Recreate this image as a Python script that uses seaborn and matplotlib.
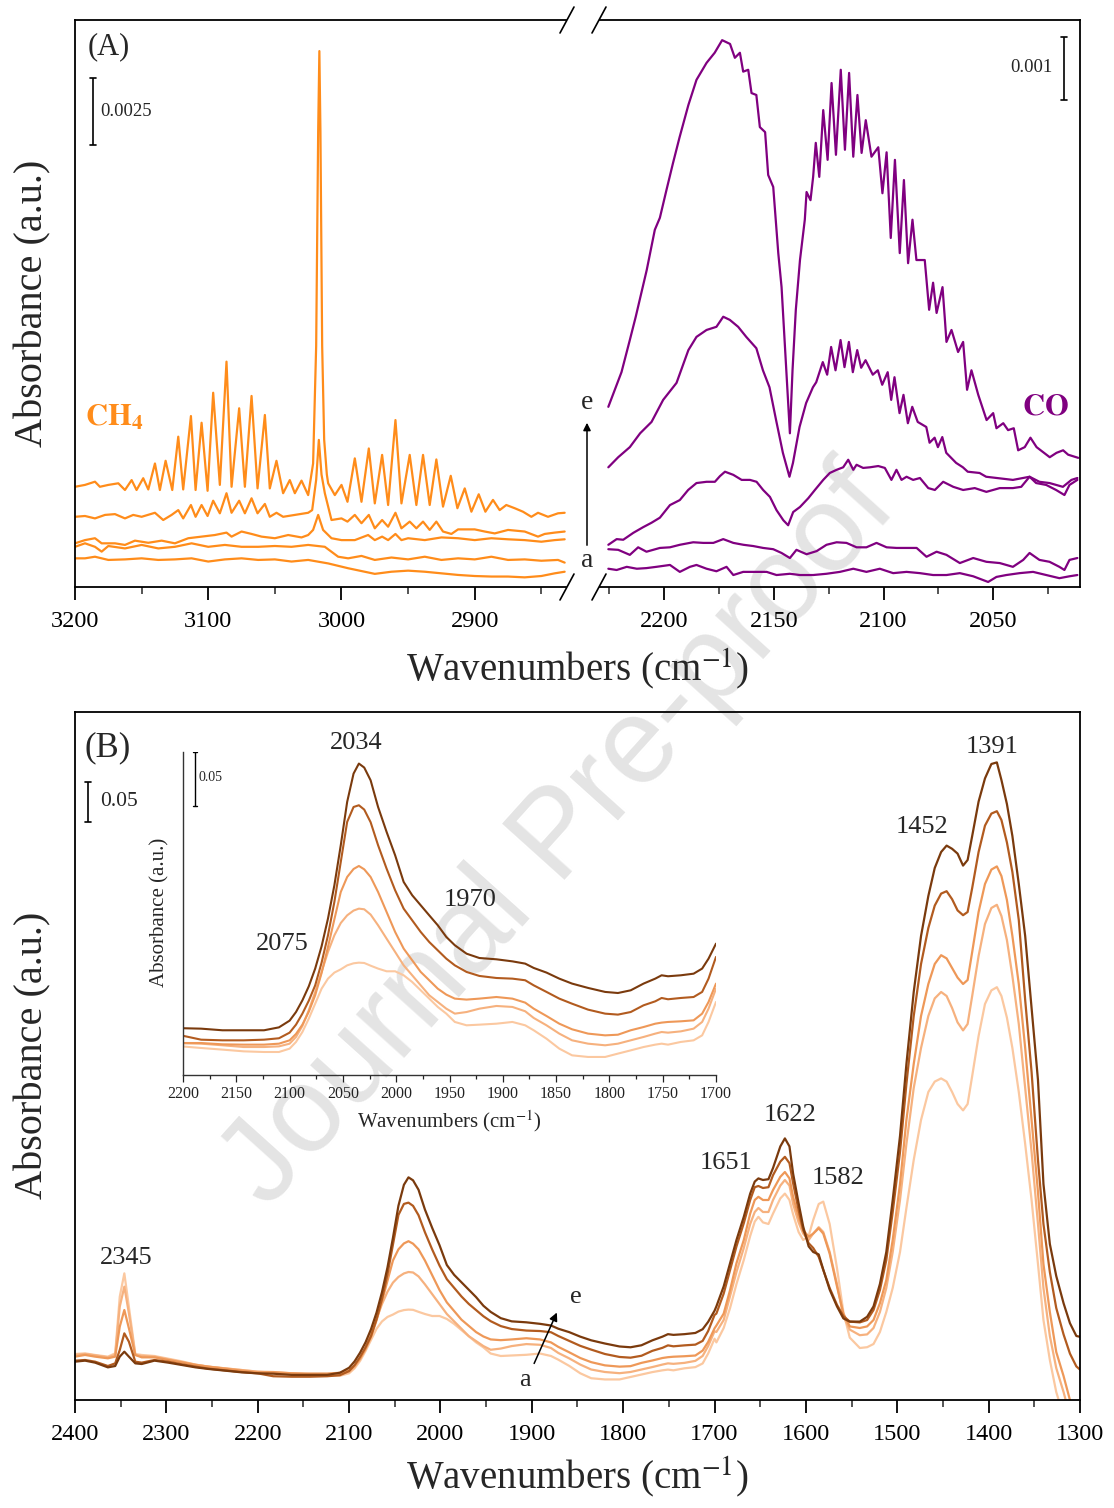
import numpy as np
import matplotlib
matplotlib.use("Agg")
import matplotlib.pyplot as plt
from matplotlib.lines import Line2D
from matplotlib.ticker import MultipleLocator, NullLocator
import seaborn as sns

# ---------------------------------------------------------------------------
# (A) gas-phase CH4 region, absorbance in units of 1e-3 (traces a -> e)
# ---------------------------------------------------------------------------
ch4_wn_e = [3200, 3192.5, 3185, 3181.3, 3175, 3167.5, 3162.5, 3157.5, 3153.8, 3148.8, 3145, 3140,
            3136.3, 3132, 3127, 3122.5, 3118.8, 3113, 3109.5, 3105, 3100.5, 3096.3, 3091.3, 3086.3,
            3082.5, 3076.8, 3072.5, 3067.5, 3063, 3057.5, 3053.8, 3048.8, 3043.8, 3038.8, 3035, 3030,
            3025, 3021.3, 3019, 3017.5, 3016.6, 3015.8, 3014.5, 3013, 3011, 3010, 3005, 3000, 2995.5,
            2990, 2985, 2979.5, 2975, 2969.5, 2965, 2959.5, 2955, 2948.8, 2943.8, 2938.8, 2933.8,
            2928.8, 2923.8, 2918, 2913, 2907.5, 2902.5, 2897, 2892, 2886.3, 2881.3, 2876.3, 2870,
            2863.8, 2857.5, 2852.5, 2845, 2837.5, 2832.5]
ch4_mabs_e = [3.74, 3.81, 3.93, 3.74, 3.81, 3.87, 3.62, 3.99, 3.62, 4.06, 3.64, 4.61, 3.62, 4.71,
              3.62, 5.61, 3.64, 6.38, 3.62, 6.13, 3.59, 7.25, 3.81, 8.41, 3.74, 6.67, 3.74, 7.13,
              3.68, 6.42, 3.68, 4.71, 3.50, 3.99, 3.50, 3.97, 3.43, 4.61, 9.0, 17.0, 20.0, 17.0, 9.0,
              5.5, 4.2, 3.87, 3.43, 3.81, 3.18, 4.80, 3.18, 5.17, 3.12, 4.93, 3.06, 6.23, 3.12, 4.93,
              3.06, 4.93, 3.06, 4.76, 3.00, 4.15, 2.94, 3.68, 2.81, 3.46, 2.81, 3.25, 2.87, 3.06,
              2.94, 2.81, 2.62, 2.77, 2.62, 2.75, 2.77]

ch4_wn_d = [3200, 3192.5, 3185, 3177.5, 3170, 3162.5, 3156.3, 3150, 3140, 3133.8, 3127.5, 3122.5,
            3118.8, 3113, 3109.5, 3105, 3100.5, 3096.3, 3091.3, 3086.3, 3082.5, 3076.8, 3072.5,
            3067.5, 3063, 3057.5, 3053.8, 3048.8, 3043.8, 3035, 3025, 3022, 3019, 3017, 3015, 3012.5,
            3007.5, 3000, 2995.5, 2990, 2985, 2979.5, 2975, 2969.5, 2965, 2959.5, 2955, 2948.8,
            2943.8, 2938.8, 2933.8, 2928.8, 2923.8, 2917.5, 2912.5, 2900, 2892.5, 2885, 2875,
            2862.5, 2852.5, 2847.5, 2840, 2832.5]
ch4_mabs_d = [2.62, 2.65, 2.56, 2.69, 2.72, 2.56, 2.69, 2.62, 2.77, 2.50, 2.69, 2.87, 2.56, 3.06,
              2.62, 3.06, 2.65, 3.22, 2.75, 3.50, 2.77, 3.22, 2.75, 3.31, 2.75, 3.10, 2.62, 2.77,
              2.62, 2.69, 2.77, 2.87, 4.0, 5.49, 4.2, 3.50, 2.50, 2.56, 2.44, 2.69, 2.38, 2.69, 2.19,
              2.50, 2.25, 2.77, 2.19, 2.44, 2.19, 2.44, 2.13, 2.44, 2.07, 1.98, 2.15, 2.15, 2.07,
              2.00, 2.13, 2.07, 1.88, 1.98, 2.03, 2.07]

ch4_wn_c = [3200, 3192.5, 3185, 3180, 3170, 3162.5, 3155, 3145, 3135, 3125, 3115, 3105, 3095,
            3086.3, 3082.5, 3075, 3067.5, 3060, 3050, 3040, 3030, 3025, 3021.3, 3017.5, 3013.8,
            3007.5, 3000, 2990, 2980, 2975, 2969.5, 2965, 2959.5, 2955, 2950, 2937.5, 2925, 2912.5,
            2900, 2887.5, 2875, 2862.5, 2850, 2840, 2832.5]
ch4_mabs_c = [1.63, 1.75, 1.82, 1.63, 1.63, 1.57, 1.73, 1.65, 1.73, 1.63, 1.82, 1.88, 1.94, 2.03,
              1.88, 2.07, 1.98, 1.88, 1.82, 1.94, 1.85, 1.94, 2.13, 2.69, 2.13, 1.82, 1.75, 1.75,
              1.94, 1.75, 1.88, 1.75, 1.98, 1.75, 1.82, 1.75, 1.85, 1.82, 1.75, 1.82, 1.78, 1.75,
              1.69, 1.75, 1.78]

ch4_wn_b = [3200, 3192.5, 3185, 3180, 3175, 3162.5, 3150, 3137.5, 3125, 3112.5, 3100, 3087.5, 3075,
            3062.5, 3050, 3037.5, 3025, 3012.5, 3002.5, 2995, 2985, 2975, 2962.5, 2950, 2937.5,
            2925, 2912.5, 2900, 2887.5, 2875, 2862.5, 2850, 2837.5, 2832.5]
ch4_mabs_b = [1.50, 1.63, 1.50, 1.32, 1.53, 1.44, 1.57, 1.44, 1.50, 1.63, 1.50, 1.57, 1.50, 1.50,
              1.53, 1.50, 1.57, 1.50, 1.13, 1.07, 1.16, 1.01, 1.10, 1.03, 1.13, 1.01, 1.07, 1.03,
              1.13, 1.01, 1.03, 0.98, 1.01, 0.91]

ch4_wn_a = [3200, 3192.5, 3185, 3175, 3162.5, 3150, 3137.5, 3125, 3112.5, 3100, 3087.5, 3075,
            3062.5, 3050, 3037.5, 3025, 3010, 2995, 2975, 2962.5, 2950, 2937.5, 2925, 2912.5, 2900,
            2887.5, 2875, 2862.5, 2850, 2840, 2832.5]
ch4_mabs_a = [1.07, 1.07, 1.13, 1.01, 1.03, 1.07, 1.01, 1.03, 1.07, 0.95, 1.03, 1.07, 1.01, 1.03,
              0.95, 1.01, 0.88, 0.70, 0.49, 0.57, 0.61, 0.57, 0.51, 0.45, 0.41, 0.39, 0.39, 0.36,
              0.41, 0.51, 0.57]

# ---------------------------------------------------------------------------
# (A) gas-phase CO region, absorbance in units of 1e-3 (traces a -> e)
# ---------------------------------------------------------------------------
co_wn_e = [2225.5, 2219.5, 2215.7, 2213, 2208, 2204.3, 2202, 2199, 2196, 2193, 2189, 2185.3, 2180.7,
           2177, 2173.6, 2170, 2167.8, 2165.5, 2164, 2161.7, 2160.2, 2158, 2156.4, 2154, 2152.6,
           2150.3, 2148, 2146.5, 2142.7, 2141.5, 2140, 2138.1, 2135.9, 2135.1, 2133.3, 2132.1,
           2130.9, 2129.3, 2127.5, 2125.5, 2123.7, 2121.7, 2119.5, 2117.6, 2115.7, 2113.8, 2111.9,
           2110, 2108.1, 2105.5, 2102.4, 2100.5, 2098.6, 2096.7, 2094.8, 2092.6, 2090.7, 2088.8,
           2086.8, 2085, 2081.2, 2079.2, 2077.4, 2075.8, 2073.1, 2072, 2071.3, 2069, 2066, 2063.7,
           2061.9, 2059.9, 2056.8, 2053, 2050, 2048.5, 2045.4, 2043.2, 2040.6, 2038.6, 2035.6, 2033,
           2030.2, 2024.2, 2021.1, 2018.1, 2015.8, 2011.2]
co_mabs_e = [2.86, 3.41, 3.92, 4.29, 5.03, 5.67, 5.86, 6.30, 6.73, 7.14, 7.65, 8.05, 8.32, 8.48,
             8.68, 8.62, 8.40, 8.48, 8.18, 8.21, 7.84, 7.81, 7.30, 7.22, 6.54, 6.35, 5.30, 4.76,
             2.44, 3.44, 4.40, 5.19, 5.83, 6.27, 6.14, 6.51, 7.05, 6.51, 7.57, 6.78, 8.00, 6.86,
             8.21, 6.94, 8.16, 6.83, 7.81, 6.89, 7.41, 6.83, 6.98, 6.25, 6.90, 5.54, 6.78, 5.30,
             6.46, 5.14, 5.83, 5.19, 5.19, 4.40, 4.83, 4.35, 4.76, 4.24, 3.89, 4.08, 3.73, 3.89,
             3.13, 3.44, 3.05, 2.65, 2.76, 2.52, 2.60, 2.49, 2.52, 2.17, 2.22, 2.37, 2.22, 2.06,
             2.13, 2.17, 2.10, 2.05]

co_wn_d = [2225.5, 2221, 2215.7, 2211, 2205.8, 2200.5, 2194.4, 2189, 2185.3, 2180.7, 2176.2, 2173.1,
           2170.1, 2166.3, 2162.6, 2158, 2155, 2152, 2149, 2145.9, 2142.9, 2141.3, 2138.3, 2135.3,
           2132.2, 2130.7, 2127.7, 2125.7, 2123.9, 2121.9, 2119.6, 2117.8, 2115.8, 2114, 2112,
           2110.2, 2108.2, 2104.9, 2102.6, 2100.6, 2098.1, 2096.5, 2095, 2092.7, 2090.9, 2088.9,
           2086.9, 2084.4, 2080.5, 2079, 2076.7, 2075.2, 2073.2, 2071.4, 2066.9, 2063.8, 2061.6,
           2056.2, 2053.2, 2041, 2033.4, 2030.4, 2025.8, 2021.3, 2017.5, 2015.2, 2011.6]
co_mabs_d = [1.90, 2.06, 2.22, 2.44, 2.62, 2.97, 3.24, 3.76, 3.97, 4.08, 4.13, 4.29, 4.24, 4.13,
             3.97, 3.79, 3.44, 3.17, 2.65, 2.13, 1.75, 1.97, 2.54, 2.92, 3.17, 3.25, 3.57, 3.37,
             3.81, 3.44, 3.92, 3.49, 3.89, 3.41, 3.76, 3.48, 3.60, 3.37, 3.44, 3.21, 3.41, 2.97,
             3.33, 2.76, 3.05, 2.60, 2.86, 2.62, 2.54, 2.29, 2.37, 2.22, 2.38, 2.13, 1.97, 1.90,
             1.83, 1.81, 1.75, 1.70, 1.75, 1.65, 1.62, 1.54, 1.46, 1.62, 1.70]

co_wn_c = [2225.5, 2221.7, 2218.7, 2214.1, 2209.6, 2205.8, 2202, 2197.4, 2192.9, 2189.1, 2185.3,
           2180.7, 2176.9, 2174.6, 2172.3, 2168.5, 2164.7, 2160.9, 2157.9, 2154.9, 2151.8, 2148.8,
           2145.7, 2143.5, 2141.2, 2138.1, 2134.3, 2131.3, 2127.5, 2124.5, 2121.4, 2118.4, 2116.1,
           2113.8, 2112.3, 2109.3, 2106.2, 2102.4, 2099.4, 2096.4, 2094.1, 2091.8, 2089.5, 2086.5,
           2083.4, 2079.6, 2076.6, 2072.8, 2068.2, 2063.7, 2058.4, 2053.1, 2047, 2041, 2037.2,
           2033.4, 2028.9, 2024.3, 2018.2, 2014.3, 2011.6]
co_mabs_c = [0.67, 0.76, 0.75, 0.86, 0.95, 1.02, 1.10, 1.30, 1.38, 1.54, 1.65, 1.67, 1.67, 1.76,
             1.83, 1.78, 1.70, 1.70, 1.67, 1.54, 1.43, 1.22, 1.06, 0.98, 1.19, 1.27, 1.41, 1.54,
             1.70, 1.81, 1.86, 1.90, 2.02, 1.86, 1.94, 1.89, 1.90, 1.92, 1.89, 1.70, 1.86, 1.70,
             1.75, 1.70, 1.73, 1.57, 1.54, 1.67, 1.59, 1.54, 1.57, 1.51, 1.57, 1.57, 1.59, 1.75,
             1.67, 1.65, 1.59, 1.70, 1.73]

co_wn_b = [2225.5, 2221, 2215.7, 2211.9, 2208.1, 2202, 2197.4, 2192.9, 2186.8, 2182.2, 2177.6,
           2173.1, 2168.5, 2163.9, 2159.4, 2154.9, 2150.3, 2146.5, 2142.7, 2139.7, 2135.1, 2130.5,
           2126, 2121.4, 2116.9, 2112.3, 2107.8, 2103.2, 2098.6, 2094.1, 2089.5, 2084.9, 2080.4,
           2075.8, 2071.3, 2065.2, 2059.1, 2053.1, 2047, 2041, 2036.3, 2033.4, 2028.9, 2024.3,
           2019.8, 2017.5, 2015.2, 2011.6]
co_mabs_b = [0.60, 0.59, 0.51, 0.63, 0.56, 0.62, 0.63, 0.67, 0.71, 0.70, 0.70, 0.76, 0.70, 0.67,
             0.65, 0.62, 0.60, 0.54, 0.46, 0.59, 0.52, 0.57, 0.67, 0.71, 0.70, 0.63, 0.63, 0.70,
             0.63, 0.62, 0.62, 0.62, 0.48, 0.56, 0.51, 0.38, 0.46, 0.40, 0.38, 0.32, 0.43, 0.54,
             0.43, 0.40, 0.32, 0.27, 0.43, 0.46]

co_wn_a = [2225.5, 2221.7, 2217.1, 2212.5, 2208.1, 2203.6, 2197.4, 2192.9, 2188.3, 2185.3, 2180.7,
           2176.2, 2171.6, 2168.5, 2164, 2157.9, 2153.3, 2148.8, 2142.7, 2138.1, 2132.1, 2126,
           2119.9, 2113.8, 2107.8, 2101.7, 2095.6, 2089.5, 2083.4, 2077.4, 2071.3, 2065.2, 2059.1,
           2052.3, 2048.5, 2044, 2037.9, 2031.8, 2025.8, 2019.8, 2015.2, 2011.6]
co_mabs_a = [0.29, 0.27, 0.32, 0.29, 0.30, 0.32, 0.35, 0.24, 0.32, 0.35, 0.29, 0.25, 0.32, 0.19,
             0.24, 0.24, 0.24, 0.19, 0.21, 0.19, 0.19, 0.21, 0.24, 0.29, 0.24, 0.29, 0.22, 0.24,
             0.22, 0.19, 0.19, 0.22, 0.17, 0.08, 0.16, 0.19, 0.22, 0.24, 0.19, 0.14, 0.17, 0.19]

# ---------------------------------------------------------------------------
# (B) adsorbed species, 2400-1300 cm-1, absorbance (traces a -> e)
# ---------------------------------------------------------------------------
b_wn = [2400, 2389, 2378, 2364, 2356, 2351, 2346, 2341, 2334, 2327, 2313, 2298, 2283, 2268, 2254,
        2236, 2218, 2200,
        2183, 2163, 2143, 2124, 2110, 2100, 2094, 2088, 2082, 2076, 2070, 2064, 2058, 2052, 2046,
        2040, 2035, 2030, 2024, 2017, 2009, 2001, 1993, 1985, 1977, 1969, 1961, 1953, 1945, 1934,
        1922, 1906, 1891, 1879, 1871, 1859, 1847, 1835, 1820, 1804, 1792, 1780, 1768, 1757, 1751,
        1745, 1733, 1721, 1713, 1707, 1700,
        1698, 1690, 1683, 1676, 1668, 1661, 1656, 1652, 1647, 1641, 1636, 1628, 1623, 1618, 1614,
        1608, 1603, 1597, 1592, 1586, 1581, 1574, 1566, 1559, 1552, 1541, 1533, 1526, 1519, 1512,
        1505, 1497, 1490, 1482, 1474, 1466, 1459, 1452, 1446, 1440, 1434, 1428, 1423, 1418, 1411,
        1404, 1397, 1391, 1386, 1380, 1374, 1367, 1360, 1353, 1346, 1340, 1333, 1326, 1318, 1311,
        1304, 1300]

b_abs_e = [0.0479, 0.0492, 0.0467, 0.0408, 0.0425, 0.0542, 0.0604, 0.0542, 0.0458, 0.0450, 0.0492,
           0.0467, 0.0438, 0.0408, 0.0388, 0.0367, 0.0346, 0.0333,
           0.0329, 0.0314, 0.0314, 0.0314, 0.0341, 0.0403, 0.0483, 0.0591, 0.0721, 0.0885, 0.1091,
           0.1348, 0.1656, 0.2027, 0.2428, 0.2690, 0.2783, 0.2746, 0.2628, 0.2381, 0.2150, 0.1934,
           0.1687, 0.1564, 0.1471, 0.1378, 0.1286, 0.1178, 0.1101, 0.1023, 0.0983, 0.0971, 0.0952,
           0.0931, 0.0891, 0.0848, 0.0792, 0.0746, 0.0706, 0.0669, 0.0659, 0.0684, 0.0746, 0.0792,
           0.0823, 0.0814, 0.0823, 0.0838, 0.0885, 0.0977, 0.1116,
           0.117, 0.142, 0.171, 0.200, 0.229, 0.258, 0.273, 0.277, 0.275, 0.276, 0.290, 0.317,
           0.327, 0.317, 0.283, 0.246, 0.217, 0.192, 0.185, 0.182, 0.163, 0.138, 0.117, 0.102,
           0.098, 0.098, 0.104, 0.117, 0.145, 0.185, 0.25, 0.33, 0.42, 0.51, 0.58, 0.63, 0.665,
           0.685, 0.693, 0.689, 0.683, 0.668, 0.675, 0.705, 0.748, 0.777, 0.795, 0.797, 0.775,
           0.745, 0.705, 0.645, 0.58, 0.49, 0.40, 0.27, 0.195, 0.155, 0.121, 0.096, 0.080, 0.079]

b_abs_d = [0.0492, 0.0500, 0.0479, 0.0425, 0.0458, 0.0625, 0.0833, 0.0729, 0.0479, 0.0467, 0.0500,
           0.0479, 0.0446, 0.0417, 0.0392, 0.0371, 0.0350, 0.0333,
           0.0297, 0.0291, 0.0291, 0.0297, 0.0310, 0.0362, 0.0436, 0.0538, 0.0658, 0.0800, 0.1010,
           0.1263, 0.1572, 0.1942, 0.2313, 0.2451, 0.2467, 0.2427, 0.2310, 0.2097, 0.1880, 0.1680,
           0.1510, 0.1402, 0.1294, 0.1201, 0.1124, 0.1047, 0.0985, 0.0924, 0.0887, 0.0868, 0.0862,
           0.0847, 0.0800, 0.0739, 0.0677, 0.0630, 0.0575, 0.0538, 0.0529, 0.0553, 0.0615, 0.0652,
           0.0683, 0.0671, 0.0683, 0.0692, 0.0739, 0.0862, 0.1063,
           0.108, 0.133, 0.1625, 0.192, 0.221, 0.250, 0.266, 0.2675, 0.265, 0.266, 0.281, 0.298,
           0.304, 0.296, 0.271, 0.2375, 0.2125, 0.196, 0.190, 0.179, 0.1625, 0.140, 0.119, 0.105,
           0.098, 0.097, 0.100, 0.1125, 0.1375, 0.175, 0.235, 0.31, 0.395, 0.48, 0.545, 0.59,
           0.618, 0.633, 0.636, 0.626, 0.612, 0.606, 0.610, 0.640, 0.685, 0.718, 0.733, 0.736,
           0.725, 0.697, 0.66, 0.60, 0.50, 0.41, 0.30, 0.22, 0.16, 0.115, 0.082, 0.058, 0.042, 0.038]

b_abs_c = [0.0542, 0.0563, 0.0542, 0.0521, 0.0542, 0.0917, 0.1125, 0.0896, 0.0563, 0.0533, 0.0533,
           0.0500, 0.0471, 0.0438, 0.0417, 0.0392, 0.0367, 0.0346,
           0.0346, 0.0334, 0.0331, 0.0331, 0.0340, 0.0371, 0.0430, 0.0516, 0.0636, 0.0788, 0.0994,
           0.1235, 0.1491, 0.1744, 0.1883, 0.1957, 0.1985, 0.1954, 0.1883, 0.1744, 0.1559, 0.1374,
           0.1220, 0.1112, 0.1004, 0.0927, 0.0849, 0.0794, 0.0757, 0.0748, 0.0757, 0.0772, 0.0757,
           0.0720, 0.0664, 0.0596, 0.0525, 0.0473, 0.0433, 0.0417, 0.0423, 0.0464, 0.0494, 0.0525,
           0.0535, 0.0541, 0.0547, 0.0556, 0.0618, 0.0726, 0.0896,
           0.093, 0.108, 0.1375, 0.171, 0.200, 0.233, 0.250, 0.254, 0.250, 0.250, 0.2625, 0.279,
           0.285, 0.277, 0.254, 0.229, 0.2125, 0.204, 0.208, 0.2146, 0.208, 0.183, 0.142, 0.108,
           0.092, 0.090, 0.092, 0.100, 0.121, 0.150, 0.20, 0.27, 0.35, 0.42, 0.48, 0.52, 0.545,
           0.556, 0.552, 0.540, 0.528, 0.520, 0.525, 0.560, 0.610, 0.645, 0.663, 0.667, 0.655,
           0.625, 0.58, 0.52, 0.44, 0.35, 0.26, 0.17, 0.11, 0.06, 0.03, 0.0, -0.03, -0.05]

b_abs_b = [0.0563, 0.0575, 0.0558, 0.0533, 0.0563, 0.1167, 0.1417, 0.1083, 0.0563, 0.0550, 0.0542,
           0.0508, 0.0475, 0.0442, 0.0417, 0.0396, 0.0375, 0.0354,
           0.0350, 0.0335, 0.0319, 0.0319, 0.0325, 0.0350, 0.0412, 0.0514, 0.0659, 0.0829, 0.1014,
           0.1199, 0.1353, 0.1467, 0.1538, 0.1582, 0.1600, 0.1594, 0.1545, 0.1446, 0.1322, 0.1199,
           0.1075, 0.0983, 0.0890, 0.0798, 0.0736, 0.0674, 0.0628, 0.0643, 0.0674, 0.0699, 0.0690,
           0.0650, 0.0588, 0.0520, 0.0443, 0.0381, 0.0350, 0.0335, 0.0350, 0.0381, 0.0412, 0.0443,
           0.0458, 0.0452, 0.0464, 0.0489, 0.0551, 0.0674, 0.0859,
           0.085, 0.10, 0.13, 0.16, 0.19, 0.22, 0.235, 0.24, 0.235, 0.235, 0.25, 0.268, 0.275,
           0.268, 0.245, 0.222, 0.208, 0.20, 0.208, 0.216, 0.21, 0.185, 0.145, 0.105, 0.088,
           0.081, 0.082, 0.09, 0.11, 0.14, 0.185, 0.25, 0.32, 0.39, 0.44, 0.48, 0.502, 0.51,
           0.505, 0.49, 0.472, 0.462, 0.47, 0.505, 0.555, 0.595, 0.615, 0.619, 0.605, 0.575, 0.53,
           0.47, 0.39, 0.31, 0.22, 0.14, 0.08, 0.04, 0.01, -0.02, -0.05, -0.07]

b_abs_a = [0.0575, 0.0583, 0.0563, 0.0542, 0.0583, 0.1292, 0.1583, 0.1167, 0.0575, 0.0563, 0.0550,
           0.0517, 0.0483, 0.0442, 0.0417, 0.0396, 0.0375, 0.0354,
           0.0340, 0.0325, 0.0309, 0.0303, 0.0303, 0.0334, 0.0396, 0.0488, 0.0612, 0.0750, 0.0889,
           0.0982, 0.1038, 0.1068, 0.1105, 0.1124, 0.1130, 0.1127, 0.1102, 0.1075, 0.1050, 0.1050,
           0.1013, 0.0951, 0.0874, 0.0797, 0.0720, 0.0658, 0.0581, 0.0550, 0.0556, 0.0565, 0.0581,
           0.0550, 0.0504, 0.0426, 0.0334, 0.0272, 0.0257, 0.0257, 0.0288, 0.0318, 0.0349, 0.0371,
           0.0380, 0.0371, 0.0396, 0.0411, 0.0457, 0.0581, 0.0766,
           0.072, 0.09, 0.115, 0.145, 0.175, 0.205, 0.223, 0.229, 0.222, 0.22, 0.233, 0.252, 0.258,
           0.25, 0.232, 0.21, 0.20, 0.205, 0.225, 0.245, 0.248, 0.22, 0.165, 0.11, 0.078, 0.065,
           0.066, 0.07, 0.085, 0.11, 0.14, 0.185, 0.24, 0.30, 0.35, 0.385, 0.398, 0.402, 0.398,
           0.385, 0.37, 0.362, 0.37, 0.405, 0.455, 0.495, 0.512, 0.516, 0.505, 0.478, 0.44, 0.385,
           0.32, 0.25, 0.17, 0.10, 0.05, 0.01, -0.02, -0.05, -0.08, -0.10]

# vertical offsets removed from each trace (a -> e) when redrawn in the inset
inset_shift = [0.019, 0.016, 0.015, 0.007, 0.0]

b_colors = ["#fbc8a0", "#f6b17e", "#ee9858", "#b25b1f", "#7a3a0d"]
ORANGE = "#ff8c1a"
PURPLE = "#800080"

# ---------------------------------------------------------------------------
sns.set_theme(style="ticks")
plt.rcParams["font.family"] = ["Liberation Serif", "DejaVu Serif"]
plt.rcParams["mathtext.fontset"] = "stix"
plt.rcParams["axes.linewidth"] = 1.3
plt.rcParams["axes.edgecolor"] = "black"

W, H = 1114, 1508
fig = plt.figure(figsize=(W / 100, H / 100), dpi=100, facecolor="white")


def px_axes(x0, y0, x1, y1):
    ax = fig.add_axes([x0 / W, 1 - y1 / H, (x1 - x0) / W, (y1 - y0) / H])
    ax.set_facecolor("none")
    return ax


def fx(x):
    return x / W


def fy(y):
    return 1 - y / H


def bottom_ticks(ax, major, minor, size, length=9, pad=8):
    ax.xaxis.set_major_locator(MultipleLocator(major))
    ax.xaxis.set_minor_locator(MultipleLocator(minor))
    ax.yaxis.set_major_locator(NullLocator())
    ax.yaxis.set_minor_locator(NullLocator())
    ax.tick_params(axis="x", which="major", direction="out", length=length, width=1.3,
                   labelsize=size, pad=pad, bottom=True, top=False, colors="black")
    ax.tick_params(axis="x", which="minor", direction="out", length=length * 0.55, width=1.1,
                   bottom=True, top=False)
    ax.set_xlabel("")
    ax.set_ylabel("")


def trace(ax, x, y, color, lw):
    sns.lineplot(x=np.asarray(x, float), y=np.asarray(y, float), ax=ax, color=color, lw=lw,
                 sort=False, estimator=None, legend=False)


def scale_bar(ax, x, y0, length, cap, lw=1.2, color="black"):
    ax.plot([x, x], [y0, y0 + length], color=color, lw=lw, solid_capstyle="butt")
    ax.plot([x - cap, x + cap], [y0, y0], color=color, lw=lw)
    ax.plot([x - cap, x + cap], [y0 + length, y0 + length], color=color, lw=lw)


# watermark under the data
fig.text(fx(560), fy(838), "Journal Pre-proof", rotation=48, fontsize=88, color="#e4e4e4",
         family="Liberation Sans", ha="center", va="center", zorder=-10)

# ------------------------------- panel A ----------------------------------
axL = px_axes(75, 20, 566, 587)
axR = px_axes(600, 20, 1080, 587)

for wn, m in [(ch4_wn_a, ch4_mabs_a), (ch4_wn_b, ch4_mabs_b), (ch4_wn_c, ch4_mabs_c),
              (ch4_wn_d, ch4_mabs_d), (ch4_wn_e, ch4_mabs_e)]:
    trace(axL, wn, np.asarray(m) * 1e-3, ORANGE, 1.6)
for wn, m in [(co_wn_a, co_mabs_a), (co_wn_b, co_mabs_b), (co_wn_c, co_mabs_c),
              (co_wn_d, co_mabs_d), (co_wn_e, co_mabs_e)]:
    trace(axR, wn, np.asarray(m) * 1e-3, PURPLE, 1.6)

axL.set_xlim(3200, 2831.5)
axL.set_ylim(0, 0.02116)
axR.set_xlim(2229.3, 2010.4)
axR.set_ylim(0, 0.0090)
axL.spines["right"].set_visible(False)
axR.spines["left"].set_visible(False)
bottom_ticks(axL, 100, 50, 17.5)
bottom_ticks(axR, 50, 25, 17.5)
axL.set_xticks([3200, 3100, 3000, 2900])

# axis-break marks
for xc in (567, 599):
    for yc in (20, 587):
        fig.add_artist(Line2D([fx(xc - 7), fx(xc + 7)], [fy(yc + 13), fy(yc - 13)],
                              color="black", lw=1.2))

# scale bars
scale_bar(axL, 3186.5, 0.01649, 0.0025, 2.3)
axL.text(3181.0, 0.01776, "0.0025", fontsize=13.5, ha="left", va="center")
scale_bar(axR, 2017.8, 0.00773, 0.001, 1.4)
axR.text(2022.8, 0.00824, "0.001", fontsize=13.5, ha="right", va="center")

fig.text(fx(88), fy(47), "(A)", fontsize=22, ha="left", va="center")
fig.text(fx(85), fy(418), r"$\mathbf{CH_4}$", fontsize=22, color=ORANGE, ha="left", va="center")
fig.text(fx(1045), fy(407), r"$\mathbf{CO}$", fontsize=22, color=PURPLE, ha="center", va="center")
fig.text(fx(587), fy(403), "e", fontsize=20, ha="center", va="center")
fig.text(fx(587), fy(560), "a", fontsize=20, ha="center", va="center")
axL.annotate("", xy=(fx(587), fy(420)), xytext=(fx(587), fy(548)),
             xycoords="figure fraction", textcoords="figure fraction",
             arrowprops=dict(arrowstyle="-|>", color="black", lw=1.1, mutation_scale=11))

fig.text(fx(577), fy(669), r"Wavenumbers (cm$^{-1}$)", fontsize=28, ha="center", va="center")
fig.text(fx(33), fy(303), "Absorbance (a.u.)", fontsize=29, rotation=90, ha="center", va="center")

# ------------------------------- panel B ----------------------------------
axB = px_axes(75, 712, 1080, 1400)
for col, yy in zip(b_colors, [b_abs_a, b_abs_b, b_abs_c, b_abs_d, b_abs_e]):
    trace(axB, b_wn, yy, col, 1.6)
axB.set_xlim(2400, 1300)
axB.set_ylim(0, 0.86)
bottom_ticks(axB, 100, 50, 17.5)
scale_bar(axB, 2385.8, 0.7225, 0.05, 3.0)
axB.text(2372.6, 0.7475, "0.05", fontsize=15.5, ha="left", va="center")

# inset: same spectra, 2200-1700 cm-1
axI = px_axes(183, 752, 716, 1075)
wn_arr = np.asarray(b_wn, float)
sel = (wn_arr <= 2200) & (wn_arr >= 1700)
for col, yy, sh in zip(b_colors, [b_abs_a, b_abs_b, b_abs_c, b_abs_d, b_abs_e], inset_shift):
    trace(axI, wn_arr[sel], np.asarray(yy, float)[sel] - sh, col, 1.5)
axI.set_xlim(2200, 1700)
axI.set_ylim(-0.010, 0.289)
axI.spines["top"].set_visible(False)
axI.spines["right"].set_visible(False)
for s in ("left", "bottom"):
    axI.spines[s].set_color("#333333")
    axI.spines[s].set_linewidth(1.0)
bottom_ticks(axI, 50, 25, 11.5, length=5, pad=3)
axI.tick_params(axis="x", which="both", width=0.9, colors="#222222")
scale_bar(axI, 2188.7, 0.239, 0.05, 2.0, lw=1.0)
axI.text(2185.0, 0.265, "0.05", fontsize=10, ha="left", va="center")
fig.text(fx(449), fy(1121), r"Wavenumbers (cm$^{-1}$)", fontsize=15, ha="center", va="center")
fig.text(fx(160), fy(912), "Absorbance (a.u.)", fontsize=15, rotation=90, ha="center", va="center")

fig.text(fx(85), fy(748), "(B)", fontsize=25, ha="left", va="center")
for lbl, (x, y) in {"2345": (126, 1258), "2034": (356, 743), "2075": (282, 944),
                    "1970": (470, 900), "1651": (726, 1163), "1622": (790, 1115),
                    "1582": (838, 1178), "1452": (922, 827), "1391": (992, 747)}.items():
    fig.text(fx(x), fy(y), lbl, fontsize=19, ha="center", va="center")
fig.text(fx(525), fy(1380), "a", fontsize=19, ha="center", va="center")
fig.text(fx(576), fy(1297), "e", fontsize=19, ha="center", va="center")
axB.annotate("", xy=(fx(558), fy(1310)), xytext=(fx(533), fy(1366)),
             xycoords="figure fraction", textcoords="figure fraction",
             arrowprops=dict(arrowstyle="-|>", color="black", lw=1.1, mutation_scale=12))

fig.text(fx(577), fy(1477), r"Wavenumbers (cm$^{-1}$)", fontsize=28, ha="center", va="center")
fig.text(fx(33), fy(1055), "Absorbance (a.u.)", fontsize=29, rotation=90, ha="center", va="center")

fig.savefig("out.png", dpi=100, facecolor="white")
